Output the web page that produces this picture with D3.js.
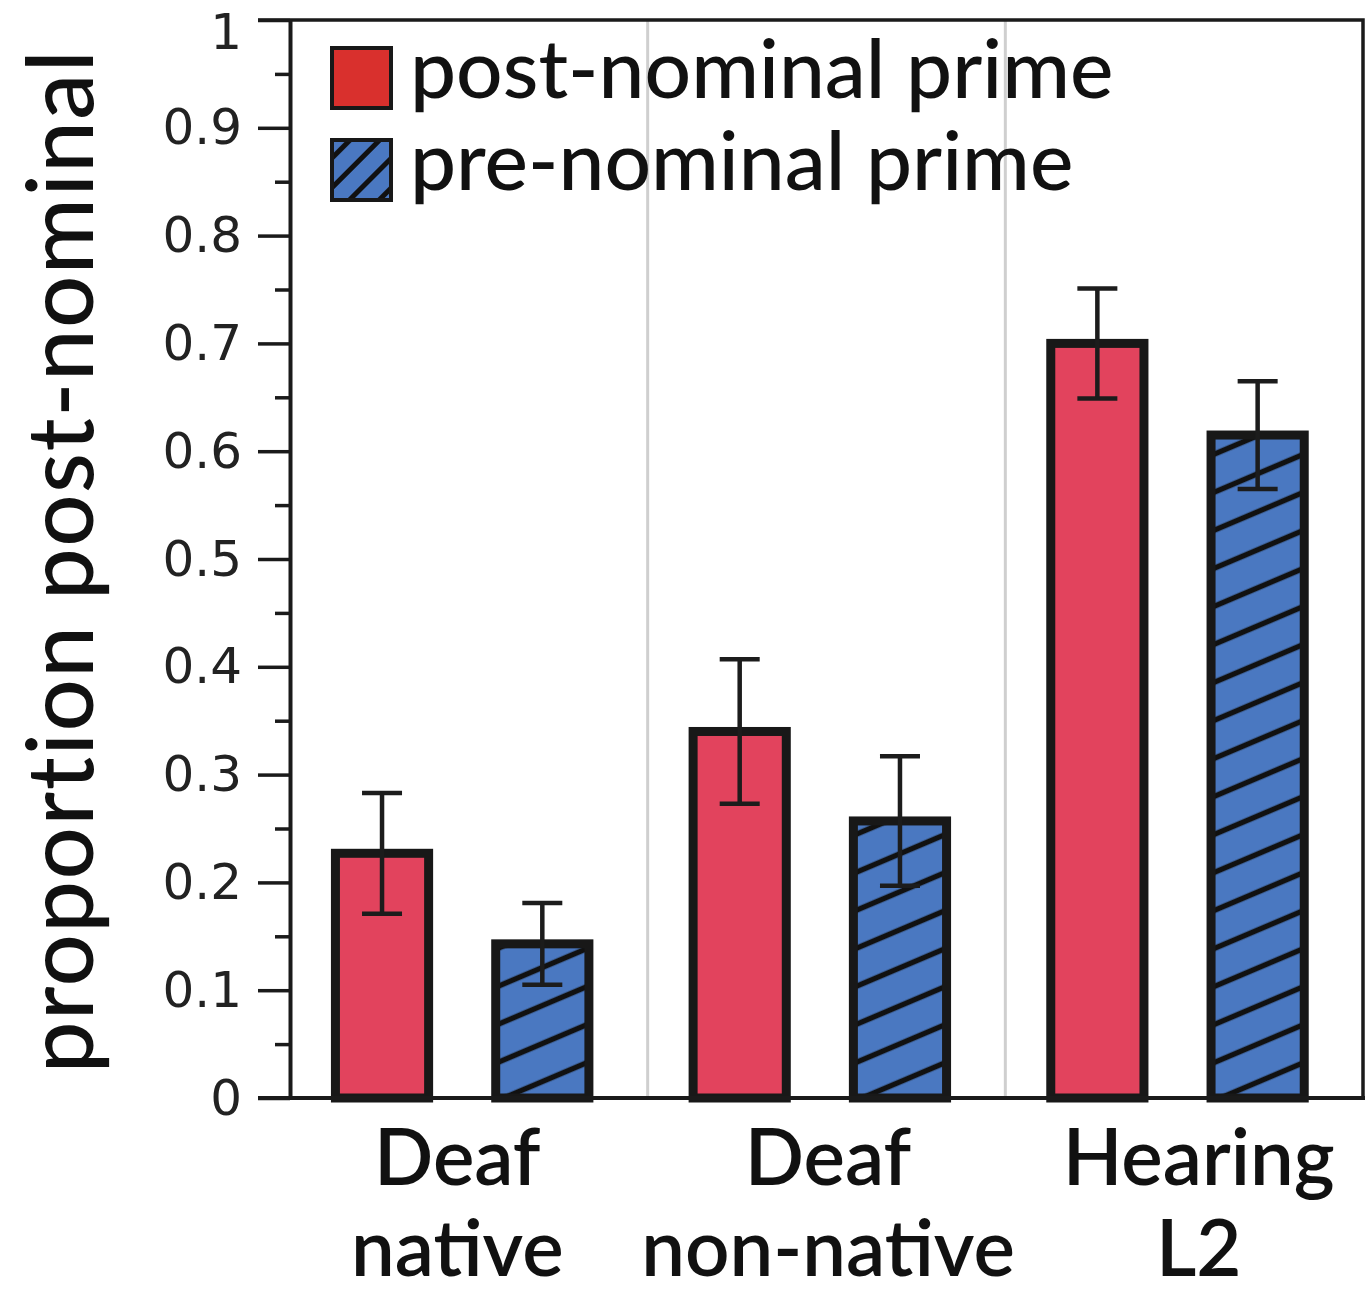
<!DOCTYPE html>
<html lang="en">
<head>
    <meta charset="UTF-8">
    <title>Proportion post-nominal by group</title>
    <script src="https://d3js.org/d3.v7.min.js"></script>
    <style>
        body { margin: 0; background: #fff; }
        .tick-label { font-family: "DejaVu Sans", sans-serif; font-size: 50px; fill: #222; }
        .label { font-family: Lato, "Open Sans", sans-serif; fill: #111; }
    </style>
</head>
<body>
    <div id="chart"></div>

    <script>
        // Data
        const groups = ["Deaf native", "Deaf non-native", "Hearing L2"];
        const groupLines = [["Deaf", "native"], ["Deaf", "non-native"], ["Hearing", "L2"]];
        const series = ["post-nominal prime", "pre-nominal prime"];
        const postNominal = [0.227, 0.340, 0.700];
        const postErr = [0.056, 0.067, 0.051];
        const preNominal = [0.143, 0.257, 0.615];
        const preErr = [0.038, 0.060, 0.050];
        const yTicks = [0, 0.1, 0.2, 0.3, 0.4, 0.5, 0.6, 0.7, 0.8, 0.9, 1];
        const yMinorTicks = [0.05, 0.15, 0.25, 0.35, 0.45, 0.55, 0.65, 0.75, 0.85, 0.95];

        const totalWidth = 1367, totalHeight = 1293;
        const plotLeft = 290, plotRight = 1363, plotTop = 20, plotBottom = 1098;

        const svg = d3.select("#chart").append("svg")
            .attr("width", totalWidth)
            .attr("height", totalHeight);

        const defs = svg.append("defs");

        // hatch used on the bars
        const hatch = defs.append("pattern")
            .attr("id", "hatch")
            .attr("patternUnits", "userSpaceOnUse")
            .attr("width", 20).attr("height", 35)
            .attr("patternTransform", "rotate(-23)");
        hatch.append("rect").attr("width", 20).attr("height", 35).attr("fill", "#4a78c1");
        hatch.append("line").attr("x1", 0).attr("x2", 20).attr("y1", 17.5).attr("y2", 17.5)
            .attr("stroke", "#111").attr("stroke-width", 5.5);

        // hatch used in the legend swatch
        const hatchLegend = defs.append("pattern")
            .attr("id", "hatch-legend")
            .attr("patternUnits", "userSpaceOnUse")
            .attr("width", 10).attr("height", 21)
            .attr("patternTransform", "rotate(-45)");
        hatchLegend.append("rect").attr("width", 10).attr("height", 21).attr("fill", "#4a78c1");
        hatchLegend.append("line").attr("x1", 0).attr("x2", 10).attr("y1", 10.5).attr("y2", 10.5)
            .attr("stroke", "#111").attr("stroke-width", 5);

        const y = d3.scaleLinear().domain([0, 1]).range([plotBottom, plotTop]);

        const x0 = d3.scaleBand().domain(groups).range([plotLeft, plotRight]).padding(0);
        const x1 = d3.scaleBand().domain(series).range([0, x0.bandwidth()])
            .paddingInner(0.3625).paddingOuter(0.297).align(0.43);
        // group labels sit a little off the group centres in the original
        const xLabel = d3.scaleBand().domain(groups).range([272, 1384]).padding(0);

        // gray separators between groups
        svg.append("g").selectAll("line")
            .data(groups.slice(1))
            .join("line")
            .attr("x1", d => x0(d)).attr("x2", d => x0(d))
            .attr("y1", plotTop).attr("y2", plotBottom)
            .attr("stroke", "#cfcfcf").attr("stroke-width", 3);

        // top and right frame
        svg.append("path")
            .attr("d", `M258,${plotTop}H${plotRight}V${plotBottom}`)
            .attr("fill", "none").attr("stroke", "#1a1a1a").attr("stroke-width", 3.5);

        // bars
        const strokeW = 9;
        const rows = groups.map((g, i) => [
            { g, s: series[0], v: postNominal[i], e: postErr[i], fill: "#e2435d" },
            { g, s: series[1], v: preNominal[i], e: preErr[i], fill: "url(#hatch)" }
        ]).flat();

        svg.append("g").selectAll("rect")
            .data(rows)
            .join("rect")
            .attr("x", d => x0(d.g) + x1(d.s) + strokeW / 2)
            .attr("width", x1.bandwidth() - strokeW)
            .attr("y", d => y(d.v))
            .attr("height", d => y(0) - y(d.v))
            .attr("fill", d => d.fill)
            .attr("stroke", "#181818")
            .attr("stroke-width", strokeW);

        // error bars
        const capW = 40;
        const err = svg.append("g").attr("stroke", "#1c1c1c").attr("stroke-width", 4.5).attr("fill", "none");
        err.selectAll("path")
            .data(rows)
            .join("path")
            .attr("d", d => {
                const cx = x0(d.g) + x1(d.s) + x1.bandwidth() / 2;
                const y1 = y(d.v + d.e), y2 = y(d.v - d.e);
                return `M${cx - capW / 2},${y1}H${cx + capW / 2}M${cx},${y1}V${y2}M${cx - capW / 2},${y2}H${cx + capW / 2}`;
            });

        // y axis
        const yAxis = svg.append("g")
            .attr("transform", `translate(${plotLeft},0)`)
            .call(d3.axisLeft(y).tickValues(yTicks).tickSize(32).tickPadding(16)
                .tickSizeOuter(0).tickFormat(d3.format("~g")));
        yAxis.attr("font-size", null).attr("font-family", null);
        yAxis.select(".domain").attr("stroke", "#1a1a1a").attr("stroke-width", 4);
        yAxis.selectAll(".tick line").attr("stroke", "#1a1a1a").attr("stroke-width", 3.5);
        yAxis.selectAll(".tick text").attr("class", "tick-label").attr("fill", null)
            .attr("y", d => d === 1 ? 12 : 0);

        const yMinor = svg.append("g")
            .attr("transform", `translate(${plotLeft},0)`)
            .call(d3.axisLeft(y).tickValues(yMinorTicks).tickSize(15).tickFormat(""));
        yMinor.select(".domain").remove();
        yMinor.selectAll(".tick line").attr("stroke", "#1a1a1a").attr("stroke-width", 3.5);

        // x baseline
        svg.append("line")
            .attr("x1", 258).attr("x2", plotRight + 2)
            .attr("y1", plotBottom).attr("y2", plotBottom)
            .attr("stroke", "#1a1a1a").attr("stroke-width", 4);

        // group labels
        const xl = svg.append("g").attr("class", "label")
            .attr("font-size", 78).attr("font-weight", 600)
            .attr("text-anchor", "middle");
        groups.forEach((g, i) => {
            const cx = xLabel(g) + xLabel.bandwidth() / 2;
            xl.append("text").attr("x", cx).attr("y", 1185).text(groupLines[i][0]);
            xl.append("text").attr("x", cx).attr("y", 1276).text(groupLines[i][1]);
        });

        // y axis title
        svg.append("text")
            .attr("class", "label")
            .attr("font-size", 92)
            .attr("font-weight", 500)
            .attr("letter-spacing", 1.5)
            .attr("text-anchor", "middle")
            .attr("transform", `translate(93,${(plotTop + plotBottom) / 2 + 2}) rotate(-90)`)
            .text("proportion post-nominal");

        // legend
        const legend = svg.append("g").attr("class", "label").attr("font-size", 82).attr("font-weight", 500);
        const swatchFill = ["#d9302d", "url(#hatch-legend)"];
        series.forEach((s, i) => {
            const yy = 47 + i * 92;
            legend.append("rect")
                .attr("x", 332).attr("y", yy + 1)
                .attr("width", 59).attr("height", 60)
                .attr("fill", swatchFill[i])
                .attr("stroke", "#181818").attr("stroke-width", 4);
            legend.append("text")
                .attr("x", 410).attr("y", yy + 51)
                .text(s);
        });
    </script>
</body>
</html>
